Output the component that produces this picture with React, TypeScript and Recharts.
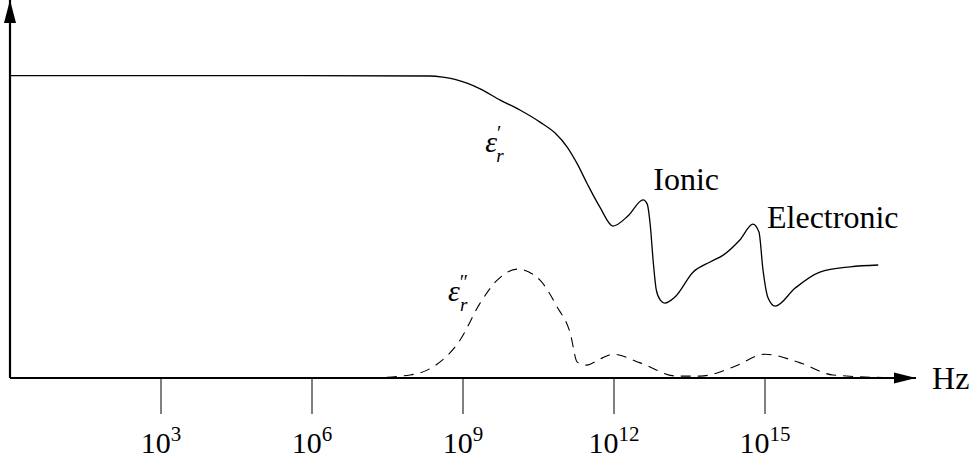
import React from 'react';
import { LineChart, Line, XAxis, YAxis, ReferenceDot, ReferenceLine } from 'recharts';

document.body.style.margin = '0';

// x is log10 of frequency (Hz), y is a relative permittivity in arbitrary units
const realLogF = [0, 4, 8.34, 8.6, 8.84, 9.08, 9.34, 9.74, 10.13, 10.53, 10.83, 11.07, 11.26, 11.46, 11.72, 11.98, 12.28, 12.58, 12.66, 12.72, 12.78, 12.84, 12.92, 13.01, 13.21, 13.57, 13.91, 14.17, 14.5, 14.76, 14.88, 14.96, 15.06, 15.2, 15.6, 16.09, 16.69, 17.25];
const realEps = [8.0, 8.0, 7.99, 7.96, 7.9, 7.8, 7.65, 7.35, 7.09, 6.77, 6.48, 6.11, 5.69, 5.16, 4.52, 4.02, 4.29, 4.71, 4.6, 4.05, 3.07, 2.33, 2.06, 1.98, 2.14, 2.8, 3.07, 3.25, 3.65, 4.07, 3.86, 2.86, 2.12, 1.9, 2.38, 2.8, 2.94, 2.99];

const imagLogF = [7.15, 7.95, 8.4, 8.94, 9.34, 9.68, 10.09, 10.53, 10.87, 11.13, 11.27, 11.46, 11.72, 11.98, 12.52, 13.25, 13.71, 14.37, 15.0, 15.7, 16.35, 17.68];
const imagEps = [0, 0.08, 0.29, 1.0, 1.98, 2.59, 2.88, 2.59, 1.88, 1.19, 0.42, 0.34, 0.5, 0.63, 0.4, 0.05, 0.05, 0.29, 0.63, 0.4, 0.08, 0];

const tickExponents = [3, 6, 9, 12, 15];

const textLabels = [
  { text: 'Ionic', f: 12.78, v: 4.97 },
  { text: 'Electronic', f: 15.04, v: 3.97 },
  { text: 'Hz', f: 18.32, v: -0.3 },
];

const epsLabels = [
  { mark: '′', f: 9.44, v: 5.98 },
  { mark: '″', f: 8.7, v: 2.04 },
];

const realData = realLogF.map((f, i) => ({ f, v: realEps[i] }));
const imagData = imagLogF.map((f, i) => ({ f, v: imagEps[i] }));

const FONT = "'Liberation Serif', 'DejaVu Serif', serif";

function PowerTick(props: any) {
  const { x, y, payload } = props;
  return (
    <text x={x} y={y + 37} textAnchor="middle" style={{ fontFamily: FONT, fontSize: 30 }} fill="#000">
      10
      <tspan dy={-12} style={{ fontSize: 21 }}>{payload.value}</tspan>
    </text>
  );
}

export default function App() {
  return (
    <div style={{ width: 972, height: 464, background: '#fff' }}>
      <LineChart width={972} height={464} margin={{ top: 0, right: 56, left: 10, bottom: 0 }}>
        <XAxis
          type="number"
          dataKey="f"
          domain={[0, 18]}
          ticks={tickExponents}
          allowDataOverflow
          height={86}
          axisLine={{ stroke: '#000', strokeWidth: 2.2 }}
          tickLine={{ stroke: '#000', strokeWidth: 1 }}
          tickSize={36}
          tick={<PowerTick />}
        />
        <YAxis type="number" domain={[0, 10]} width={0} hide />
        <ReferenceLine x={0} stroke="#000" strokeWidth={2.2} ifOverflow="visible" />
        <Line
          data={realData}
          dataKey="v"
          type="monotone"
          stroke="#000"
          strokeWidth={1.3}
          dot={false}
          isAnimationActive={false}
        />
        <Line
          data={imagData}
          dataKey="v"
          type="monotone"
          stroke="#000"
          strokeWidth={1.1}
          strokeDasharray="10 7"
          dot={false}
          isAnimationActive={false}
        />
        {/* arrow heads */}
        <ReferenceDot
          x={0}
          y={10}
          ifOverflow="visible"
          shape={(p: any) => (
            <path d={`M${p.cx},${p.cy} L${p.cx - 6},${p.cy + 23} L${p.cx + 6},${p.cy + 23} Z`} fill="#000" />
          )}
        />
        <ReferenceDot
          x={18}
          y={0}
          ifOverflow="visible"
          shape={(p: any) => (
            <path d={`M${p.cx},${p.cy} L${p.cx - 22},${p.cy - 5.5} L${p.cx - 22},${p.cy + 5.5} Z`} fill="#000" />
          )}
        />
        {textLabels.map((l) => (
          <ReferenceDot
            key={l.text}
            x={l.f}
            y={l.v}
            ifOverflow="visible"
            shape={(p: any) => (
              <text x={p.cx} y={p.cy} style={{ fontFamily: FONT, fontSize: 32 }} fill="#000">
                {l.text}
              </text>
            )}
          />
        ))}
        {epsLabels.map((l) => (
          <ReferenceDot
            key={l.mark}
            x={l.f}
            y={l.v}
            ifOverflow="visible"
            shape={(p: any) => (
              <text x={p.cx} y={p.cy} style={{ fontFamily: FONT, fontSize: 30, fontStyle: 'italic' }} fill="#000">
                ε
                <tspan dy={-12} style={{ fontSize: 20, fontStyle: 'normal' }}>{l.mark}</tspan>
                <tspan dx={l.mark === '′' ? -5 : -8} dy={22} style={{ fontSize: 19 }}>r</tspan>
              </text>
            )}
          />
        ))}
      </LineChart>
    </div>
  );
}
